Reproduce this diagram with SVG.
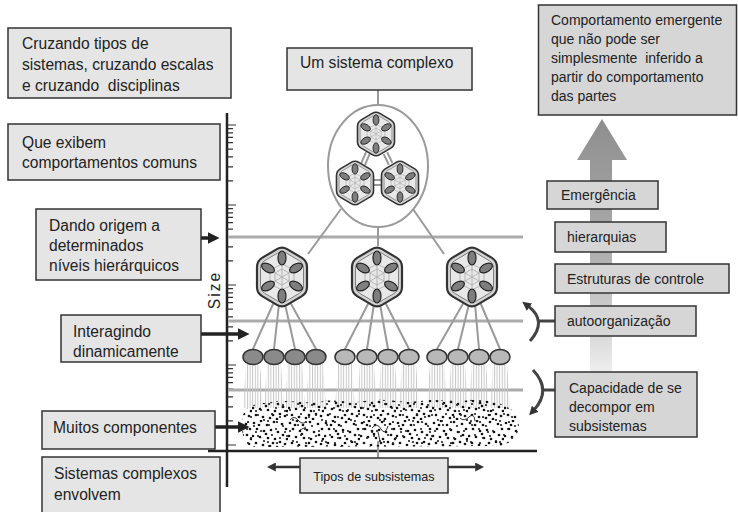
<svg xmlns="http://www.w3.org/2000/svg" width="738" height="512" viewBox="0 0 738 512">
  <style>
    .box{fill:#e5e5e5;stroke:#333;stroke-width:1.5}
    .rbox{fill:#d6d6d6;stroke:#333;stroke-width:1.5}
    .t{font-family:"Liberation Sans",Arial,sans-serif;font-size:15.6px;fill:#222}
    .tr{font-family:"Liberation Sans",Arial,sans-serif;font-size:14px;fill:#222}
    .ts{font-family:"Liberation Sans",Arial,sans-serif;font-size:12.6px;fill:#222}
    .lvl{stroke:#ababab;stroke-width:3;fill:none}
    .link{stroke:#9a9a9a;stroke-width:2;fill:none}
    .arr{stroke:#222;stroke-width:3.5;fill:none;marker-end:url(#head)}
    .arrs{stroke:#333;stroke-width:2.5;fill:none;marker-end:url(#headS)}
    .brk{stroke:#444;stroke-width:3;fill:none}
    .axis{stroke:#222;stroke-width:2.5;fill:none}
    .tick{stroke:#333;stroke-width:1.2;fill:none}
    .ell1{fill:#8a8a8a;stroke:#333;stroke-width:1.5}
    .ell2{fill:#b8b8b8;stroke:#333;stroke-width:1.5}
    .rays{fill:url(#rays)}
  </style>
  <defs>
    <marker id="head" viewBox="0 0 10 10" refX="2" refY="5" markerWidth="12" markerHeight="12" markerUnits="userSpaceOnUse" orient="auto-start-reverse">
      <path d="M0,0 L10,5 L0,10 Z" fill="#222"/>
    </marker>
    <marker id="headS" viewBox="0 0 10 10" refX="2" refY="5" markerWidth="9" markerHeight="9" markerUnits="userSpaceOnUse" orient="auto-start-reverse">
      <path d="M0,0 L10,5 L0,10 Z" fill="#333"/>
    </marker>
    <linearGradient id="upGrad" gradientUnits="userSpaceOnUse" x1="0" y1="118" x2="0" y2="400">
      <stop offset="0" stop-color="#8e8e8e"/>
      <stop offset="0.45" stop-color="#aaaaaa"/>
      <stop offset="0.8" stop-color="#dedede"/>
      <stop offset="1" stop-color="#ffffff"/>
    </linearGradient>
    <pattern id="rays" patternUnits="userSpaceOnUse" width="2.6" height="4">
      <rect x="0" y="0" width="1" height="4" fill="#c6c6c6"/>
    </pattern>
    <pattern id="dotsA" patternUnits="userSpaceOnUse" width="36" height="28">
      <g fill="#111">
        <circle cx="2" cy="3" r="1.35"/><circle cx="9" cy="1" r="1.35"/><circle cx="15" cy="5" r="1.35"/>
        <circle cx="22" cy="2" r="1.35"/><circle cx="30" cy="4" r="1.35"/><circle cx="34" cy="9" r="1.35"/>
        <circle cx="5" cy="9" r="1.35"/><circle cx="12" cy="11" r="1.35"/><circle cx="19" cy="10" r="1.35"/>
        <circle cx="26" cy="12" r="1.35"/><circle cx="31" cy="15" r="1.35"/><circle cx="1" cy="16" r="1.35"/>
        <circle cx="8" cy="17" r="1.35"/><circle cx="16" cy="18" r="1.35"/><circle cx="23" cy="19" r="1.35"/>
        <circle cx="28" cy="22" r="1.35"/><circle cx="4" cy="23" r="1.35"/><circle cx="11" cy="25" r="1.35"/>
        <circle cx="18" cy="26" r="1.35"/><circle cx="25" cy="27" r="1.35"/><circle cx="33" cy="24" r="1.35"/>
        <circle cx="14" cy="14" r="1.35"/><circle cx="21" cy="23" r="1.35"/><circle cx="7" cy="5" r="1.35"/>
        <circle cx="35" cy="19" r="1.35"/>
      </g>
    </pattern>
    <pattern id="dotsB" patternUnits="userSpaceOnUse" width="29" height="21" x="5" y="3">
      <g fill="#222">
        <circle cx="3" cy="2" r="1.1"/><circle cx="10" cy="6" r="1.1"/><circle cx="17" cy="3" r="1.1"/>
        <circle cx="24" cy="8" r="1.1"/><circle cx="6" cy="12" r="1.1"/><circle cx="14" cy="15" r="1.1"/>
        <circle cx="21" cy="13" r="1.1"/><circle cx="27" cy="18" r="1.1"/><circle cx="2" cy="19" r="1.1"/>
        <circle cx="11" cy="20" r="1.1"/><circle cx="19" cy="9" r="1.1"/>
      </g>
    </pattern>
    <!-- rounded hexagon outline, pointy top -->
    <path id="hexShape" d="M5.1,-27.9 L19.9,-19.1 Q25,-16 25,-10 L25,10 Q25,16 19.9,19.1 L5.1,27.9 Q0,31 -5.1,27.9 L-19.9,19.1 Q-25,16 -25,10 L-25,-10 Q-25,-16 -19.9,-19.1 L-5.1,-27.9 Q0,-31 5.1,-27.9 Z"/>
    <!-- hexagonal cell: outer shell, inner chamber, web and six components -->
    <g id="hexcell">
      <use href="#hexShape" fill="#d4d4d4" stroke="#333" stroke-width="2.2"/>
      <use href="#hexShape" transform="scale(0.86)" fill="#e8e8e8" stroke="#777" stroke-width="1.1"/>
      <g stroke="#aaaaaa" stroke-width="0.8" fill="none">
        <polygon points="0,-8 7,-4 7,4 0,8 -7,4 -7,-4"/>
        <path d="M0,-13 V13 M-12,-7 L12,7 M-12,7 L12,-7 M0,-13 L12,-7 L12,7 L0,13 L-12,7 L-12,-7 Z"/>
      </g>
      <g fill="#7e7e7e" stroke="#222" stroke-width="1.2">
        <ellipse cx="0" cy="-19" rx="4" ry="7"/>
        <ellipse cx="0" cy="19" rx="4" ry="7"/>
        <ellipse rx="4" ry="7" transform="translate(14,-9) rotate(60)"/>
        <ellipse rx="4" ry="7" transform="translate(14,9) rotate(-60)"/>
        <ellipse rx="4" ry="7" transform="translate(-14,9) rotate(60)"/>
        <ellipse rx="4" ry="7" transform="translate(-14,-9) rotate(-60)"/>
      </g>
    </g>
  </defs>

  <rect width="738" height="512" fill="#ffffff"/>

  <!-- size axis with logarithmic ticks -->
  <g id="size-axis">
    <path class="axis" d="M227,113 V487 M208,451 H537"/>
    <path class="tick" d="M228,125 h8 M228,128.7 h5 M228,132.8 h5 M228,137.4 h5 M228,142.7 h5 M228,149.1 h5 M228,156.8 h5 M228,166.8 h5 M228,180.9 h5
      M228,205 h8 M228,208.7 h5 M228,212.8 h5 M228,217.4 h5 M228,222.7 h5 M228,229.1 h5 M228,236.8 h5 M228,246.8 h5 M228,260.9 h5
      M228,285 h8 M228,288.7 h5 M228,292.8 h5 M228,297.4 h5 M228,302.7 h5 M228,309.1 h5 M228,316.8 h5 M228,326.8 h5 M228,340.9 h5
      M228,365 h8 M228,368.7 h5 M228,372.8 h5 M228,377.4 h5 M228,382.7 h5 M228,389.1 h5 M228,396.8 h5 M228,406.8 h5 M228,420.9 h5 M228,445 h8"/>
    <text class="t" font-size="16" letter-spacing="2" text-anchor="middle" transform="translate(220,290) rotate(-90)">Size</text>
  </g>

  <!-- upward emergence arrow -->
  <g id="emergence-arrow">
    <path d="M602,119 L627,160 L612,160 L612,402 L590,402 L590,160 L577,160 Z" fill="url(#upGrad)"/>
  </g>

  <!-- the whole system's enclosing boundary -->
  <g id="system-boundary">
    <ellipse cx="378" cy="166" rx="50" ry="61" fill="none" stroke="#9a9a9a" stroke-width="2"/>
  </g>

  <!-- connectors -->
  <g id="connectors">
    <path class="lvl" d="M228,237 H523 M228,321 H523 M228,390 H523"/>
    <path class="link" d="M378,90 V105"/>
    <path class="link" d="M341,209 L308,254 M378,227 V246 M413,209 L444,254"/>
    <path class="link" d="M274,302 L253,349 M279,304 L274,349 M285,304 L295,349 M290,302 L316,349
      M369,302 L345,349 M374,304 L367,349 M380,304 L388,349 M385,302 L409,349
      M464,302 L437,349 M469,304 L458,349 M475,304 L479,349 M480,302 L500,349"/>
    <path class="link" stroke-width="1.6" d="M365,164.8 L369.7,153.8 M361.3,163.2 L366.1,152.2 M387.2,152.2 L392.4,163 M383.6,154 L388.8,164.8 M371,180 H384 M371,185 H384"/>
    <path class="arr" d="M201,238 H210"/>
    <path class="arr" d="M201,334 H240"/>
    <path class="arr" d="M215,427 H240"/>
    <path class="arrs" d="M300,467 H274"/>
    <path class="arrs" d="M448,467 H477"/>
    <path class="link" d="M378,441 V458"/>
    <path class="brk" style="marker-start:url(#headS)" d="M528,306 Q548,321 530,341"/>
    <path class="brk" d="M538,321 H555"/>
    <path class="brk" style="marker-end:url(#headS)" d="M533,370 Q552,390 534,410"/>
    <path class="brk" d="M543,390 H555"/>
  </g>

  <!-- left-hand labels -->
  <g id="box-cruzando">
    <rect class="box" x="8" y="28" width="223" height="70"/>
    <text class="t" x="22" y="49">Cruzando tipos de</text>
    <text class="t" x="22" y="70">sistemas, cruzando escalas</text>
    <text class="t" x="22" y="91" xml:space="preserve">e cruzando  disciplinas</text>
  </g>
  <g id="box-exibem">
    <rect class="box" x="8" y="124" width="212" height="56"/>
    <text class="t" x="22" y="148">Que exibem</text>
    <text class="t" x="22" y="168">comportamentos comuns</text>
  </g>
  <g id="box-dando">
    <rect class="box" x="36" y="209" width="165" height="71"/>
    <text class="t" x="49" y="231">Dando origem a</text>
    <text class="t" x="49" y="251">determinados</text>
    <text class="t" x="49" y="271">níveis hierárquicos</text>
  </g>
  <g id="box-interagindo">
    <rect class="box" x="61" y="315" width="140" height="47"/>
    <text class="t" x="73" y="337">Interagindo</text>
    <text class="t" x="73" y="357">dinamicamente</text>
  </g>
  <g id="box-muitos">
    <rect class="box" x="42" y="411" width="173" height="38"/>
    <text class="t" x="53" y="433">Muitos componentes</text>
  </g>
  <g id="box-envolvem">
    <rect class="box" x="42" y="457" width="178" height="60"/>
    <text class="t" x="54" y="479">Sistemas complexos</text>
    <text class="t" x="54" y="500">envolvem</text>
  </g>

  <!-- complex system -->
  <g id="box-sistema">
    <rect class="box" x="287" y="48" width="185" height="42"/>
    <text class="t" x="300" y="68">Um sistema complexo</text>
  </g>
  <g id="system-whole">
    <use href="#hexcell" transform="translate(376,134) scale(0.74)"/>
    <use href="#hexcell" transform="translate(355,183) scale(0.74)"/>
    <use href="#hexcell" transform="translate(400,183) scale(0.74)"/>
  </g>

  <!-- subsystems -->
  <g id="hex-left"><use href="#hexcell" transform="translate(282,277)"/></g>
  <g id="hex-mid"><use href="#hexcell" transform="translate(377,277)"/></g>
  <g id="hex-right"><use href="#hexcell" transform="translate(472,277)"/></g>

  <!-- interaction rays beneath the components -->
  <g id="rays">
    <path class="rays" d="M246,364 H260 L263,408 H243 Z M267,364 H281 L284,408 H264 Z M288,364 H302 L305,408 H285 Z M309,364 H323 L326,408 H306 Z
      M338,364 H352 L355,408 H335 Z M360,364 H374 L377,408 H357 Z M381,364 H395 L398,408 H378 Z M402,364 H416 L419,408 H399 Z
      M430,364 H444 L447,408 H427 Z M451,364 H465 L468,408 H448 Z M472,364 H486 L489,408 H469 Z M493,364 H507 L510,408 H490 Z"/>
  </g>

  <g id="components-left">
    <ellipse class="ell1" cx="253" cy="357" rx="10" ry="7.5"/>
    <ellipse class="ell1" cx="274" cy="357" rx="10" ry="7.5"/>
    <ellipse class="ell1" cx="295" cy="357" rx="10" ry="7.5"/>
    <ellipse class="ell1" cx="316" cy="357" rx="10" ry="7.5"/>
  </g>
  <g id="components-mid">
    <ellipse class="ell2" cx="345" cy="357" rx="10" ry="7.5"/>
    <ellipse class="ell2" cx="367" cy="357" rx="10" ry="7.5"/>
    <ellipse class="ell2" cx="388" cy="357" rx="10" ry="7.5"/>
    <ellipse class="ell2" cx="409" cy="357" rx="10" ry="7.5"/>
  </g>
  <g id="components-right">
    <ellipse class="ell2" cx="437" cy="357" rx="10" ry="7.5"/>
    <ellipse class="ell2" cx="458" cy="357" rx="10" ry="7.5"/>
    <ellipse class="ell2" cx="479" cy="357" rx="10" ry="7.5"/>
    <ellipse class="ell2" cx="500" cy="357" rx="10" ry="7.5"/>
  </g>

  <!-- many components: particle cloud -->
  <g id="particles">
    <path d="M242,425 C240,410 252,402 268,403 C285,398 300,404 320,402 C335,398 350,404 365,401 C385,397 400,404 420,401 C440,398 455,403 470,400 C490,398 515,405 518,420 C522,435 510,446 495,446 L255,447 C245,446 242,438 242,425 Z" fill="url(#dotsA)"/>
    <path d="M242,425 C240,410 252,402 268,403 C285,398 300,404 320,402 C335,398 350,404 365,401 C385,397 400,404 420,401 C440,398 455,403 470,400 C490,398 515,405 518,420 C522,435 510,446 495,446 L255,447 C245,446 242,438 242,425 Z" fill="url(#dotsB)"/>
    <path d="M290,420 q4,-5 8,0 t8,2 M372,428 q5,-6 9,1 t7,-3 M378,432 l2,9 M460,418 q4,4 9,-1 t6,4 M300,430 l6,-3" stroke="#333" stroke-width="1" fill="none"/>
  </g>

  <g id="box-tipos">
    <rect class="box" x="300" y="458" width="148" height="35"/>
    <text class="ts" x="374" y="481" text-anchor="middle">Tipos de subsistemas</text>
  </g>

  <!-- right-hand labels -->
  <g id="box-emergente">
    <rect class="rbox" x="538.5" y="5" width="198" height="110"/>
    <text class="tr" x="551" y="25">Comportamento emergente</text>
    <text class="tr" x="551" y="44">que não pode ser</text>
    <text class="tr" x="551" y="63" xml:space="preserve">simplesmente  inferido a</text>
    <text class="tr" x="551" y="82">partir do comportamento</text>
    <text class="tr" x="551" y="101">das partes</text>
  </g>
  <g id="lbl-emergencia">
    <rect class="rbox" x="547" y="181" width="111" height="28"/>
    <text class="tr" x="561" y="200">Emergência</text>
  </g>
  <g id="lbl-hierarquias">
    <rect class="rbox" x="555" y="222" width="111" height="30"/>
    <text class="tr" x="567" y="242">hierarquias</text>
  </g>
  <g id="lbl-estruturas">
    <rect class="rbox" x="555" y="264" width="174" height="29"/>
    <text class="tr" x="567" y="284">Estruturas de controle</text>
  </g>
  <g id="lbl-autoorganizacao">
    <rect class="rbox" x="555" y="306" width="141" height="30"/>
    <text class="tr" x="567" y="326">autoorganização</text>
  </g>
  <g id="lbl-capacidade">
    <rect class="rbox" x="555" y="372" width="142" height="65"/>
    <text class="tr" x="569" y="393">Capacidade de se</text>
    <text class="tr" x="569" y="412">decompor em</text>
    <text class="tr" x="569" y="431">subsistemas</text>
  </g>
</svg>
